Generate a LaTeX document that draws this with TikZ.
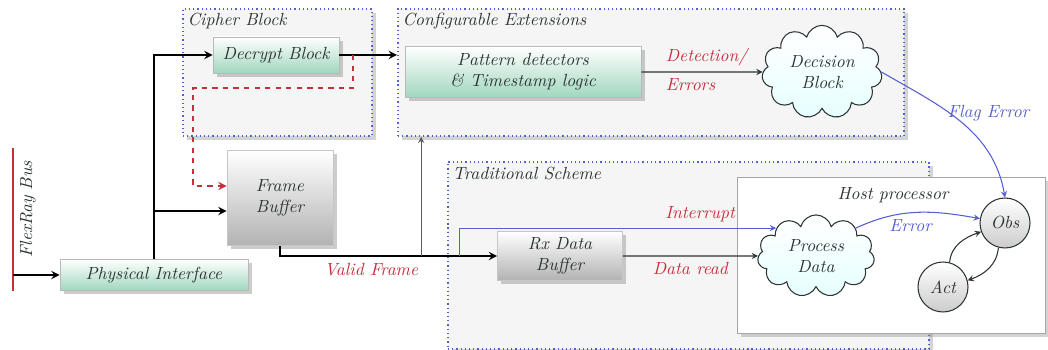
\documentclass[tikz,border=0pt]{standalone}
\usetikzlibrary{shapes.symbols,shadows,calc,positioning}

\definecolor{labelred}{RGB}{200,45,60}
\definecolor{flowblue}{RGB}{85,95,205}
\definecolor{mintgreen}{RGB}{160,215,190}
\definecolor{inkgray}{RGB}{45,52,52}

\tikzset{
  region/.style={draw=flowblue, line width=1pt, dash pattern=on 0.7pt off 1.7pt,
    fill=gray!8, drop shadow={opacity=0.35}, anchor=north west, inner sep=0},
  regiontitle/.style={anchor=north west, font=\itshape, text=inkgray, inner sep=3pt},
  greenblock/.style={draw=gray!55, top color=white, bottom color=mintgreen,
    drop shadow={opacity=0.4}, font=\itshape, align=center, text=inkgray},
  grayblock/.style={draw=gray!45, top color=white, bottom color=gray!60,
    drop shadow={opacity=0.4}, font=\itshape, align=center, text=inkgray},
  thought/.style={cloud, cloud puffs=11, aspect=1.5, draw=inkgray, semithick,
    top color=white, bottom color=cyan!10!white, font=\itshape, align=center, text=inkgray},
  state/.style={circle, draw=inkgray, semithick, top color=white, bottom color=gray!40,
    minimum size=1cm, font=\itshape, text=inkgray},
  redlabel/.style={text=labelred, font=\itshape},
  bluelabel/.style={text=flowblue, font=\itshape},
  bus/.style={line width=1.1pt, ->, >=stealth},
  wire/.style={line width=0.6pt, ->, >=stealth},
}

\begin{document}
\begin{tikzpicture}[x=0.02cm, y=-0.02cm]
    \useasboundingbox (0,0) rectangle (1048,350);

    % regions
    \node[region, minimum width=3.78cm, minimum height=2.54cm] (cipher) at (182,8) {};
    \node[regiontitle] (ciphertitle) at (cipher.north west) {Cipher Block};
    \node[region, minimum width=10.12cm, minimum height=2.54cm] (config) at (397,8) {};
    \node[regiontitle] (configtitle) at (config.north west) {Configurable Extensions};
    \node[region, minimum width=9.62cm, minimum height=3.74cm] (trad) at (447,161) {};
    \node[regiontitle] (tradtitle) at (trad.north west) {Traditional Scheme};

    % host processor
    \node[draw=gray!70, fill=white, drop shadow={opacity=0.35}, anchor=north west,
      minimum width=6.16cm, minimum height=3.12cm] (host) at (737,177) {};
    \node[font=\itshape, text=inkgray] (hosttitle) at (893,195) {Host processor};

    % blocks
    \node[greenblock, minimum width=2.52cm, minimum height=0.72cm] (decrypt) at (276,55) {Decrypt Block};
    \node[greenblock, minimum width=4.72cm, minimum height=1.02cm] (pattern) at (523,72) {Pattern detectors\\\& Timestamp logic};
    \node[thought, minimum width=2.36cm, minimum height=1.6cm] (decision) at (822,72) {Decision\\Block};
    \node[grayblock, minimum width=2.12cm, minimum height=1.9cm] (fbuf) at (280,198) {Frame\\Buffer};
    \node[greenblock, minimum width=3.76cm, minimum height=0.62cm] (phys) at (154,275) {Physical Interface};
    \node[grayblock, minimum width=2.5cm, minimum height=0.98cm] (rxbuf) at (560,256) {Rx Data\\Buffer};
    \node[thought, minimum width=2.34cm, minimum height=1.6cm] (process) at (816,256) {Process\\Data};
    \node[state] (obs) at (1005,223) {Obs};
    \node[state] (act) at (943,287) {Act};

    % flexray bus
    \coordinate (bustop) at (13,148);
    \coordinate (busbot) at (13,291);
    \draw[labelred, line width=1.1pt] (busbot) -- (bustop)
      node[pos=0.57, below, sloped, text=inkgray, font=\itshape] {FlexRay Bus};
    \draw[bus] (phys.west -| bustop) -- (phys.west);

    % trunk up to decrypt and frame buffer
    \draw[bus] (phys.north) |- (decrypt.west);
    \coordinate (fbin) at ($(fbuf.west)+(0,13)$);
    \draw[bus] (phys.north |- fbin) -- (fbin);
    \draw[bus] (decrypt.east) -- (decrypt.east -| config.west);

    % decrypted frame back to buffer
    \coordinate (dtap) at ($(decrypt.east)+(14,0)$);
    \coordinate (dcorner) at (193,88);
    \coordinate (fbdash) at ($(fbuf.west)+(0,-12)$);
    \draw[wire, labelred, line width=1.1pt, dashed] (dtap) |- (dcorner) |- (fbdash);

    % valid frame to rx buffer
    \draw[bus] (fbuf.south) |- (rxbuf.west)
      node[pos=0.71, below, redlabel] {Valid Frame};
    \coordinate (vtap) at ($(rxbuf.west)+(-76,0)$);
    \draw[wire, draw=inkgray!80] (vtap) -- (vtap |- config.south);

    % interrupt and data read
    \coordinate (itap) at ($(rxbuf.west)+(-38,0)$);
    \draw[wire, flowblue] (itap) |- (process.145)
      node[pos=0.88, above, redlabel] {Interrupt};
    \draw[wire, inkgray] (rxbuf.east) -- (process.west)
      node[midway, below, redlabel] {Data read};

    % detection path
    \draw[wire, inkgray] (pattern.east) -- (decision.west)
      node[pos=0.15, above right, redlabel] {Detection/}
      node[pos=0.15, below right, redlabel] {Errors};
    \draw[wire, flowblue] (decision.east) to[out=-30, in=100]
      node[pos=0.42, anchor=west, xshift=-5pt, bluelabel] {Flag Error} (obs.north);

    % host side
    \draw[wire, flowblue] (process.35) to[out=25, in=170]
      node[pos=0.45, below, bluelabel] {Error} (obs.170);
    \draw[wire, inkgray] (obs.255) to[out=-95, in=20] (act.15);
    \draw[wire, inkgray] (act.75) to[out=85, in=200] (obs.200);
\end{tikzpicture}
\end{document}
